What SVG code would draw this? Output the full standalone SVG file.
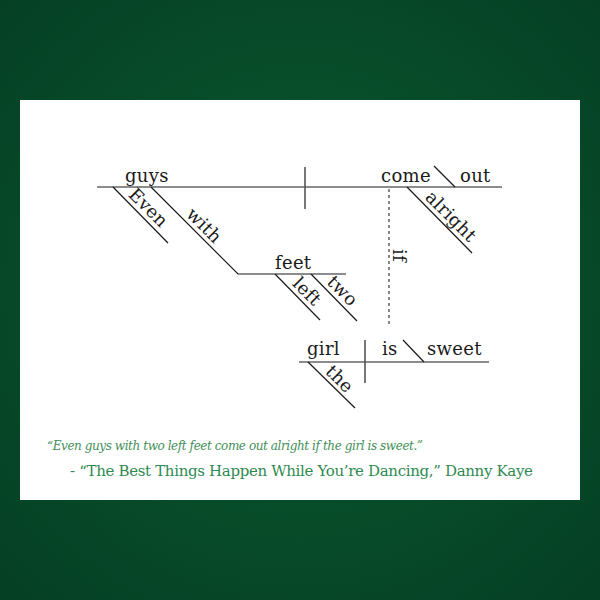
<svg xmlns="http://www.w3.org/2000/svg" width="600" height="600" viewBox="0 0 600 600">
  <defs>
    <radialGradient id="bg" cx="300" cy="290" r="430" gradientUnits="userSpaceOnUse">
      <stop offset="0" stop-color="#0b5c31"/>
      <stop offset="0.6" stop-color="#074a29"/>
      <stop offset="1" stop-color="#053f24"/>
    </radialGradient>
    <style>
      .ln { stroke: #1a1a1a; stroke-width: 1.2; fill: none; }
      .dv { stroke: #555; stroke-width: 1.6; fill: none; }
      .dot { stroke: #555; stroke-width: 1.4; stroke-dasharray: 3 3; fill: none; }
      .w { font-family: "DejaVu Serif", "Liberation Serif", serif; font-size: 18px; letter-spacing: 0.3px; fill: #1a1a1a; }
      .q1 { font-family: "DejaVu Serif", "Liberation Serif", serif; font-style: italic; font-size: 12px; fill: #3f8f58; }
      .q2 { font-family: "DejaVu Serif", "Liberation Serif", serif; font-size: 15px; fill: #2e8a50; }
    </style>
  </defs>
  <rect width="600" height="600" fill="url(#bg)"/>
  <rect x="20" y="100" width="560" height="400" fill="#ffffff"/>

  <g id="connectors">
    <line class="ln" x1="97" y1="187" x2="502" y2="187"/>
    <line class="dv" x1="305" y1="167" x2="305" y2="209"/>
    <line class="ln" x1="434" y1="166" x2="455" y2="187"/>
    <line class="ln" x1="113" y1="187" x2="168" y2="243"/>
    <polyline class="ln" points="151,187 238,274 346,274"/>
    <line class="ln" x1="275" y1="274" x2="320" y2="320"/>
    <line class="ln" x1="311" y1="274" x2="357" y2="321"/>
    <line class="ln" x1="407" y1="187" x2="472" y2="253"/>
    <line class="dot" x1="389" y1="189" x2="389" y2="325"/>
    <line class="ln" x1="299" y1="362" x2="489" y2="362"/>
    <line class="dv" x1="365" y1="340" x2="365" y2="383"/>
    <line class="ln" x1="403" y1="340" x2="424" y2="362"/>
    <line class="ln" x1="308" y1="362" x2="355" y2="408"/>
  </g>

  <g id="guys"><text class="w" x="125" y="182">guys</text></g>
  <g id="come"><text class="w" x="381" y="182">come</text></g>
  <g id="out"><text class="w" x="460" y="182">out</text></g>
  <g id="even"><text class="w" transform="translate(127.5,195.4) rotate(45)">Even</text></g>
  <g id="with"><text class="w" transform="translate(185.3,215.2) rotate(45)">with</text></g>
  <g id="feet"><text class="w" x="275" y="269">feet</text></g>
  <g id="left"><text class="w" transform="translate(291.5,284.6) rotate(45)">left</text></g>
  <g id="two"><text class="w" transform="translate(326,283) rotate(45)">two</text></g>
  <g id="alright"><text class="w" transform="translate(424.3,198.2) rotate(45)">alright</text></g>
  <g id="if"><text class="w" transform="translate(393,249) rotate(90)">if</text></g>
  <g id="girl"><text class="w" x="307" y="355">girl</text></g>
  <g id="is"><text class="w" x="382" y="355">is</text></g>
  <g id="sweet"><text class="w" x="427" y="355">sweet</text></g>
  <g id="the"><text class="w" transform="translate(324.6,372.5) rotate(45)">the</text></g>

  <g id="quote">
    <text class="q1" x="47" y="450" textLength="376" lengthAdjust="spacing">“Even guys with two left feet come out alright if the girl is sweet.”</text>
    <text class="q2" x="70" y="476" textLength="463" lengthAdjust="spacing">- “The Best Things Happen While You’re Dancing,” Danny Kaye</text>
  </g>
</svg>
